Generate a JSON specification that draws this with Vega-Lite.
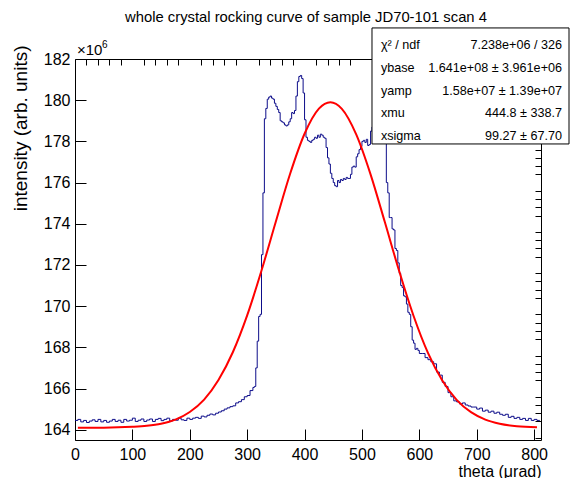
{
  "$schema": "https://vega.github.io/schema/vega-lite/v6.json",
  "width": 466,
  "height": 381,
  "autosize": "none",
  "padding": {"left": 75, "top": 59, "right": 29, "bottom": 38},
  "background": "white",
  "title": {"text": "whole crystal rocking curve of sample JD70-101 scan 4", "fontSize": 14.8, "fontWeight": "normal", "font": "Liberation Sans", "color": "black", "offset": 3, "anchor": "middle", "dx": -2},
  "config": {
    "view": {"stroke": "black", "strokeWidth": 1},
    "font": "Liberation Sans",
    "axis": {"labelFont": "Liberation Sans", "titleFont": "Liberation Sans", "labelColor": "black", "titleColor": "black", "tickColor": "black", "tickWidth": 1, "grid": false, "domain": false, "labelFlush": false, "labelOverlap": false, "labelBound": false}
  },
  "datasets": {
    "hist": [
      {"theta": 0, "intensity": 164.45}, {"theta": 5, "intensity": 164.5}, {"theta": 10, "intensity": 164.38}, {"theta": 15, "intensity": 164.45},
      {"theta": 20, "intensity": 164.35}, {"theta": 25, "intensity": 164.42}, {"theta": 30, "intensity": 164.48}, {"theta": 35, "intensity": 164.4},
      {"theta": 40, "intensity": 164.5}, {"theta": 45, "intensity": 164.38}, {"theta": 50, "intensity": 164.45}, {"theta": 55, "intensity": 164.36},
      {"theta": 60, "intensity": 164.42}, {"theta": 65, "intensity": 164.5}, {"theta": 70, "intensity": 164.4}, {"theta": 75, "intensity": 164.46},
      {"theta": 80, "intensity": 164.36}, {"theta": 85, "intensity": 164.5}, {"theta": 90, "intensity": 164.42}, {"theta": 95, "intensity": 164.46},
      {"theta": 100, "intensity": 164.56}, {"theta": 105, "intensity": 164.4}, {"theta": 110, "intensity": 164.46}, {"theta": 115, "intensity": 164.52},
      {"theta": 120, "intensity": 164.4}, {"theta": 125, "intensity": 164.47}, {"theta": 130, "intensity": 164.52}, {"theta": 135, "intensity": 164.4},
      {"theta": 140, "intensity": 164.5}, {"theta": 145, "intensity": 164.55}, {"theta": 150, "intensity": 164.44}, {"theta": 155, "intensity": 164.5},
      {"theta": 160, "intensity": 164.56}, {"theta": 165, "intensity": 164.42}, {"theta": 170, "intensity": 164.5}, {"theta": 175, "intensity": 164.46},
      {"theta": 180, "intensity": 164.56}, {"theta": 185, "intensity": 164.48}, {"theta": 190, "intensity": 164.45}, {"theta": 195, "intensity": 164.56},
      {"theta": 200, "intensity": 164.5}, {"theta": 205, "intensity": 164.56}, {"theta": 210, "intensity": 164.6}, {"theta": 215, "intensity": 164.55},
      {"theta": 220, "intensity": 164.66}, {"theta": 225, "intensity": 164.62}, {"theta": 230, "intensity": 164.7}, {"theta": 235, "intensity": 164.76},
      {"theta": 240, "intensity": 164.72}, {"theta": 245, "intensity": 164.8}, {"theta": 250, "intensity": 164.86}, {"theta": 255, "intensity": 164.92},
      {"theta": 260, "intensity": 165.0}, {"theta": 265, "intensity": 165.06}, {"theta": 270, "intensity": 165.12}, {"theta": 275, "intensity": 165.16},
      {"theta": 280, "intensity": 165.3}, {"theta": 285, "intensity": 165.36}, {"theta": 290, "intensity": 165.46}, {"theta": 295, "intensity": 165.6},
      {"theta": 300, "intensity": 165.66}, {"theta": 305, "intensity": 165.9}, {"theta": 310, "intensity": 166.05}, {"theta": 312.5, "intensity": 166.1},
      {"theta": 315, "intensity": 167.0}, {"theta": 317.5, "intensity": 168.3}, {"theta": 320, "intensity": 169.5}, {"theta": 322.5, "intensity": 169.6},
      {"theta": 325, "intensity": 172.5}, {"theta": 327.5, "intensity": 175.5}, {"theta": 330, "intensity": 179.1}, {"theta": 332.5, "intensity": 179.6},
      {"theta": 335, "intensity": 180.05}, {"theta": 337.5, "intensity": 180.15}, {"theta": 340, "intensity": 180.2}, {"theta": 342.5, "intensity": 180.1},
      {"theta": 345, "intensity": 180.05}, {"theta": 347.5, "intensity": 179.85}, {"theta": 350, "intensity": 179.7}, {"theta": 352.5, "intensity": 179.55},
      {"theta": 355, "intensity": 179.4}, {"theta": 357.5, "intensity": 179.0}, {"theta": 360, "intensity": 178.95}, {"theta": 362.5, "intensity": 178.9},
      {"theta": 365, "intensity": 178.8}, {"theta": 367.5, "intensity": 178.75}, {"theta": 370, "intensity": 178.8}, {"theta": 372.5, "intensity": 178.95},
      {"theta": 375, "intensity": 179.1}, {"theta": 377.5, "intensity": 179.4}, {"theta": 380, "intensity": 179.35}, {"theta": 382.5, "intensity": 179.5},
      {"theta": 385, "intensity": 180.2}, {"theta": 387.5, "intensity": 180.9}, {"theta": 390, "intensity": 181.15}, {"theta": 392.5, "intensity": 181.2},
      {"theta": 395, "intensity": 181.05}, {"theta": 397.5, "intensity": 180.35}, {"theta": 400, "intensity": 179.05}, {"theta": 402.5, "intensity": 178.2},
      {"theta": 405, "intensity": 178.05}, {"theta": 407.5, "intensity": 178.0}, {"theta": 410, "intensity": 177.95}, {"theta": 412.5, "intensity": 178.05},
      {"theta": 415, "intensity": 178.1}, {"theta": 417.5, "intensity": 178.2}, {"theta": 420, "intensity": 178.15}, {"theta": 422.5, "intensity": 178.3},
      {"theta": 425, "intensity": 178.2}, {"theta": 427.5, "intensity": 178.35}, {"theta": 430, "intensity": 178.3}, {"theta": 432.5, "intensity": 178.2},
      {"theta": 435, "intensity": 178.15}, {"theta": 437.5, "intensity": 177.7}, {"theta": 440, "intensity": 177.2}, {"theta": 442.5, "intensity": 176.9},
      {"theta": 445, "intensity": 176.45}, {"theta": 447.5, "intensity": 176.2}, {"theta": 450, "intensity": 176.0}, {"theta": 452.5, "intensity": 175.85},
      {"theta": 455, "intensity": 175.8}, {"theta": 457.5, "intensity": 176.1}, {"theta": 460, "intensity": 176.0}, {"theta": 462.5, "intensity": 176.15},
      {"theta": 465, "intensity": 176.1}, {"theta": 467.5, "intensity": 176.2}, {"theta": 470, "intensity": 176.15}, {"theta": 472.5, "intensity": 176.25},
      {"theta": 475, "intensity": 176.2}, {"theta": 477.5, "intensity": 176.2}, {"theta": 480, "intensity": 176.4}, {"theta": 482.5, "intensity": 176.75},
      {"theta": 485, "intensity": 176.8}, {"theta": 487.5, "intensity": 176.75}, {"theta": 490, "intensity": 177.25}, {"theta": 492.5, "intensity": 177.4},
      {"theta": 495, "intensity": 177.6}, {"theta": 497.5, "intensity": 177.75}, {"theta": 500, "intensity": 178.0}, {"theta": 502.5, "intensity": 178.05},
      {"theta": 505, "intensity": 177.95}, {"theta": 507.5, "intensity": 178.1}, {"theta": 510, "intensity": 177.8}, {"theta": 512.5, "intensity": 177.85},
      {"theta": 515, "intensity": 178.5}, {"theta": 517.5, "intensity": 178.7}, {"theta": 520, "intensity": 178.8}, {"theta": 525, "intensity": 178.9},
      {"theta": 530, "intensity": 178.8}, {"theta": 535, "intensity": 178.7}, {"theta": 540, "intensity": 178.5}, {"theta": 542.5, "intensity": 176.0},
      {"theta": 545, "intensity": 175.5}, {"theta": 547.5, "intensity": 174.3}, {"theta": 550, "intensity": 174.3}, {"theta": 552.5, "intensity": 173.75},
      {"theta": 555, "intensity": 173.7}, {"theta": 557.5, "intensity": 172.8}, {"theta": 560, "intensity": 172.7}, {"theta": 562.5, "intensity": 172.1},
      {"theta": 565, "intensity": 171.6}, {"theta": 567.5, "intensity": 171.0}, {"theta": 570, "intensity": 170.9}, {"theta": 572.5, "intensity": 170.5},
      {"theta": 575, "intensity": 170.45}, {"theta": 577.5, "intensity": 170.1}, {"theta": 580, "intensity": 169.7}, {"theta": 582.5, "intensity": 169.6},
      {"theta": 585, "intensity": 169.0}, {"theta": 587.5, "intensity": 168.35}, {"theta": 590, "intensity": 168.2}, {"theta": 592.5, "intensity": 167.9},
      {"theta": 595, "intensity": 167.95}, {"theta": 597.5, "intensity": 167.85}, {"theta": 600, "intensity": 167.7}, {"theta": 605, "intensity": 167.7},
      {"theta": 610, "intensity": 167.5}, {"theta": 615, "intensity": 167.4}, {"theta": 620, "intensity": 167.3}, {"theta": 625, "intensity": 167.2},
      {"theta": 630, "intensity": 166.8}, {"theta": 635, "intensity": 166.65}, {"theta": 640, "intensity": 166.3}, {"theta": 645, "intensity": 166.1},
      {"theta": 650, "intensity": 165.8}, {"theta": 655, "intensity": 165.6}, {"theta": 660, "intensity": 165.4}, {"theta": 665, "intensity": 165.35},
      {"theta": 670, "intensity": 165.25}, {"theta": 675, "intensity": 165.3}, {"theta": 680, "intensity": 165.2}, {"theta": 685, "intensity": 165.15},
      {"theta": 690, "intensity": 165.1}, {"theta": 695, "intensity": 165.1}, {"theta": 700, "intensity": 165.0}, {"theta": 705, "intensity": 165.05},
      {"theta": 710, "intensity": 164.9}, {"theta": 715, "intensity": 164.95}, {"theta": 720, "intensity": 164.85}, {"theta": 725, "intensity": 164.9},
      {"theta": 730, "intensity": 164.8}, {"theta": 735, "intensity": 164.85}, {"theta": 740, "intensity": 164.75}, {"theta": 745, "intensity": 164.7},
      {"theta": 750, "intensity": 164.75}, {"theta": 755, "intensity": 164.6}, {"theta": 760, "intensity": 164.65}, {"theta": 765, "intensity": 164.55},
      {"theta": 770, "intensity": 164.6}, {"theta": 775, "intensity": 164.5}, {"theta": 780, "intensity": 164.55}, {"theta": 785, "intensity": 164.45},
      {"theta": 790, "intensity": 164.55}, {"theta": 795, "intensity": 164.45}, {"theta": 800, "intensity": 164.5}, {"theta": 805, "intensity": 164.45},
      {"theta": 810, "intensity": 164.45}
    ],
    "fit": [
      {"theta": 5, "intensity": 164.1}, {"theta": 50, "intensity": 164.1}, {"theta": 100, "intensity": 164.14}, {"theta": 125, "intensity": 164.19},
      {"theta": 150, "intensity": 164.29}, {"theta": 175, "intensity": 164.49}, {"theta": 200, "intensity": 164.86}, {"theta": 225, "intensity": 165.46},
      {"theta": 250, "intensity": 166.41}, {"theta": 275, "intensity": 167.76}, {"theta": 300, "intensity": 169.55}, {"theta": 325, "intensity": 171.73},
      {"theta": 350, "intensity": 174.11}, {"theta": 375, "intensity": 176.44}, {"theta": 400, "intensity": 178.37}, {"theta": 425, "intensity": 179.59},
      {"theta": 445, "intensity": 179.9}, {"theta": 465, "intensity": 179.58}, {"theta": 490, "intensity": 178.34}, {"theta": 515, "intensity": 176.4},
      {"theta": 540, "intensity": 174.07}, {"theta": 565, "intensity": 171.69}, {"theta": 590, "intensity": 169.52}, {"theta": 615, "intensity": 167.73},
      {"theta": 640, "intensity": 166.39}, {"theta": 665, "intensity": 165.45}, {"theta": 690, "intensity": 164.85}, {"theta": 715, "intensity": 164.49},
      {"theta": 740, "intensity": 164.29}, {"theta": 770, "intensity": 164.17}, {"theta": 805, "intensity": 164.12}
    ],
    "stats": [
      {"row": 0, "label": "χ² / ndf", "value": "7.238e+06 / 326"},
      {"row": 1, "label": "ybase", "value": "1.641e+08 ± 3.961e+06"},
      {"row": 2, "label": "yamp", "value": "1.58e+07 ± 1.39e+07"},
      {"row": 3, "label": "xmu", "value": "444.8 ± 338.7"},
      {"row": 4, "label": "xsigma", "value": "99.27 ± 67.70"}
    ]
  },
  "layer": [
    {
      "layer": [
        {
          "data": {"name": "hist"},
          "mark": {"type": "line", "interpolate": "step-after", "color": "#0d0d8a", "strokeWidth": 1},
          "encoding": {
            "x": {"field": "theta", "type": "quantitative",
              "scale": {"domain": [0, 812], "nice": false, "zero": false},
              "axis": {"values": [0, 100, 200, 300, 400, 500, 600, 700, 800], "format": "d", "tickSize": -11, "labelPadding": 17, "labelFontSize": 16,
                "title": "theta (μrad)", "titleFontSize": 16, "titleFontWeight": "normal", "titleX": 466, "titleY": 36, "titleAlign": "right", "titleBaseline": "alphabetic", "titleAnchor": "end"}},
            "y": {"field": "intensity", "type": "quantitative",
              "scale": {"domain": [163.5, 182], "nice": false, "zero": false},
              "axis": {"values": [164, 166, 168, 170, 172, 174, 176, 178, 180, 182], "format": "d", "tickSize": -11, "labelPadding": 16, "labelFontSize": 16,
                "title": "intensity (arb. units)", "titleFontSize": 19, "titleFontWeight": "normal", "titleAngle": -90, "titleX": -55, "titleY": -14, "titleAlign": "right", "titleBaseline": "middle"}}
          }
        },
        {
          "data": {"name": "fit"},
          "mark": {"type": "line", "interpolate": "monotone", "color": "#ff0000", "strokeWidth": 2},
          "encoding": {
            "x": {"field": "theta", "type": "quantitative",
              "axis": {"values": [20, 40, 60, 80, 120, 140, 160, 180, 220, 240, 260, 280, 320, 340, 360, 380, 420, 440, 460, 480, 520, 540, 560, 580, 620, 640, 660, 680, 720, 740, 760, 780],
                "tickSize": -6, "labels": false, "title": null}},
            "y": {"field": "intensity", "type": "quantitative",
              "axis": {"values": [163.6, 164.4, 164.8, 165.2, 165.6, 166.4, 166.8, 167.2, 167.6, 168.4, 168.8, 169.2, 169.6, 170.4, 170.8, 171.2, 171.6, 172.4, 172.8, 173.2, 173.6, 174.4, 174.8, 175.2, 175.6, 176.4, 176.8, 177.2, 177.6, 178.4, 178.8, 179.2, 179.6, 180.4, 180.8, 181.2, 181.6],
                "tickSize": -6, "labels": false, "title": null}}
          }
        },
        {
          "data": {"values": [{"note": "×10"}]},
          "mark": {"type": "text", "align": "left", "baseline": "alphabetic", "fontSize": 15, "color": "black", "dx": 2, "dy": -4},
          "encoding": {
            "x": {"datum": 0, "type": "quantitative", "axis": null},
            "y": {"datum": 182, "type": "quantitative", "axis": null},
            "text": {"field": "note"}
          }
        },
        {
          "data": {"values": [{"note": "6"}]},
          "mark": {"type": "text", "align": "left", "baseline": "alphabetic", "fontSize": 10, "color": "black", "dx": 27, "dy": -11},
          "encoding": {
            "x": {"datum": 0, "type": "quantitative", "axis": null},
            "y": {"datum": 182, "type": "quantitative", "axis": null},
            "text": {"field": "note"}
          }
        }
      ],
      "resolve": {"axis": {"x": "independent", "y": "independent"}}
    },
    {
      "layer": [
        {
          "data": {"values": [{"box": "stats"}]},
          "mark": {"type": "rect", "fill": "white", "stroke": "black", "strokeWidth": 1},
          "encoding": {
            "x": {"datum": 517.5, "type": "quantitative", "axis": null},
            "x2": {"datum": 860.8},
            "y": {"datum": -0.75, "type": "quantitative", "axis": null, "scale": {"domain": [0, 4], "range": [-14, 77], "nice": false, "zero": false}},
            "y2": {"datum": 4.35}
          }
        },
        {
          "data": {"name": "stats"},
          "mark": {"type": "text", "align": "left", "baseline": "middle", "fontSize": 12.6, "color": "black"},
          "encoding": {
            "x": {"datum": 533, "type": "quantitative", "axis": null},
            "y": {"field": "row", "type": "quantitative", "axis": null},
            "text": {"field": "label"}
          }
        },
        {
          "data": {"name": "stats"},
          "mark": {"type": "text", "align": "right", "baseline": "middle", "fontSize": 12.6, "color": "black"},
          "encoding": {
            "x": {"datum": 848.6, "type": "quantitative", "axis": null},
            "y": {"field": "row", "type": "quantitative", "axis": null},
            "text": {"field": "value"}
          }
        }
      ]
    }
  ],
  "resolve": {"scale": {"y": "independent"}}
}
